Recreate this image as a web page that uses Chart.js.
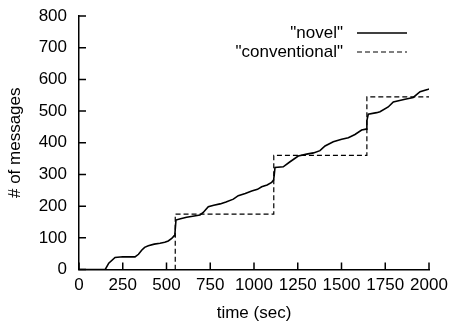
<!DOCTYPE html>
<html>
<head>
<meta charset="utf-8">
<script src="https://cdn.jsdelivr.net/npm/chart.js@4"></script>
<style>
html,body{margin:0;padding:0;background:#fff;}
#wrap{width:449px;height:324px;}
</style>
</head>
<body>
<div id="wrap"><canvas id="c" width="449" height="324"></canvas></div>
<script>
// ---- data ----
const novelTimes  = [0, 150, 170, 206, 250, 320, 340, 358, 375, 396, 430, 463, 490, 510, 530, 543, 548, 554, 580, 615, 650, 691, 710, 726, 739, 770, 806, 840, 882, 910, 950, 987, 1020, 1044, 1075, 1101, 1112, 1116, 1120, 1167, 1206, 1253, 1301, 1340, 1377, 1406, 1453, 1501, 1539, 1577, 1615, 1640, 1645, 1653, 1701, 1720, 1767, 1796, 1863, 1910, 1949, 1996, 2000];
const novelValues = [0,   0,  20,  38,  40,  40,  48,  61,  70,  75,  80,  83,  86,  90,  98, 106, 112, 156, 160, 165, 168, 172, 180, 190, 198, 203, 207, 213, 222, 233, 240, 248,  253,  261,  267,  275,  282,  300,  322,  324,  340,  358,  364,  368,  375,  390,  403,  411,  416,  426,  440,  443,  470,  490,  495,  498,  513,  529,  537,  543,  561,  569,  570];
const convTimes   = [0, 550, 1113, 1645, 2000];
const convValues  = [0, 175, 360, 545, 545];
const seriesLabels = ['"novel"', '"conventional"'];
const xTicks = [0, 250, 500, 750, 1000, 1250, 1500, 1750, 2000];
const yTicks = [0, 100, 200, 300, 400, 500, 600, 700, 800];
const xTitle = 'time (sec)';
const yTitle = '# of messages';

const INK = '#000';
const FONT = 'Liberation Sans, Arial, Helvetica, sans-serif';

const novelData = novelTimes.map((t, i) => ({x: t, y: novelValues[i]}));
const convData = convTimes.map((t, i) => ({x: t, y: convValues[i]}));

// inward tick marks drawn from the library's scales
const inwardTicks = {
  id: 'inwardTicks',
  afterDatasetsDraw(chart) {
    const {ctx, chartArea, scales} = chart;
    ctx.save();
    ctx.strokeStyle = INK;
    ctx.lineWidth = 1.5;
    ctx.beginPath();
    xTicks.forEach(v => {
      const px = scales.x.getPixelForValue(v);
      ctx.moveTo(px, chartArea.bottom);
      ctx.lineTo(px, chartArea.bottom - 7);
    });
    yTicks.forEach(v => {
      const py = scales.y.getPixelForValue(v);
      ctx.moveTo(chartArea.left, py);
      ctx.lineTo(chartArea.left + 7, py);
    });
    ctx.stroke();
    ctx.restore();
  }
};

// gnuplot-style legend: text right-aligned, sample line to its right
const gnuLegend = {
  id: 'gnuLegend',
  afterDraw(chart) {
    const {ctx} = chart;
    ctx.save();
    ctx.font = '17px ' + FONT;
    ctx.fillStyle = INK;
    ctx.textAlign = 'right';
    ctx.textBaseline = 'middle';
    const rows = [33, 52];
    chart.data.datasets.forEach((ds, i) => {
      const y = rows[i];
      ctx.fillText(ds.label, 343, y);
      ctx.beginPath();
      ctx.strokeStyle = INK;
      ctx.lineWidth = ds.borderWidth;
      ctx.setLineDash(ds.borderDash || []);
      ctx.moveTo(357, y);
      ctx.lineTo(407, y);
      ctx.stroke();
    });
    ctx.restore();
  }
};

new Chart(document.getElementById('c'), {
  type: 'line',
  data: {
    datasets: [
      {
        label: seriesLabels[0],
        data: novelData,
        borderColor: INK,
        borderWidth: 1.6,
        pointRadius: 0,
        tension: 0,
        fill: false
      },
      {
        label: seriesLabels[1],
        data: convData,
        borderColor: INK,
        borderWidth: 1.2,
        borderDash: [5, 3],
        pointRadius: 0,
        stepped: 'before',
        fill: false
      }
    ]
  },
  options: {
    responsive: false,
    animation: false,
    devicePixelRatio: 1,
    layout: {padding: {left: 0, right: 20, top: 16, bottom: 0}},
    plugins: {legend: {display: false}, tooltip: {enabled: false}},
    scales: {
      x: {
        type: 'linear',
        min: 0, max: 2000,
        afterBuildTicks(s) { s.ticks = xTicks.map(v => ({value: v})); },
        afterFit(s) { s.height = 54.5; s.paddingLeft = 0; s.paddingRight = 0; },
        grid: {display: true, drawOnChartArea: false, drawTicks: false},
        border: {display: true, color: INK, width: 1.5},
        ticks: {color: INK, font: {family: FONT, size: 17}, padding: 6, maxRotation: 0, autoSkip: false, callback: v => String(v)},
        title: {display: true, text: xTitle, color: INK, font: {family: FONT, size: 17}, padding: {top: 0, bottom: 0}}
      },
      y: {
        type: 'linear',
        min: 0, max: 800,
        afterBuildTicks(s) { s.ticks = yTicks.map(v => ({value: v})); },
        afterFit(s) { s.width = 79; s.paddingTop = 0; s.paddingBottom = 0; },
        grid: {display: true, drawOnChartArea: false, drawTicks: false},
        border: {display: true, color: INK, width: 1.5},
        ticks: {color: INK, font: {family: FONT, size: 17}, padding: 12, autoSkip: false, callback: v => String(v)},
        title: {display: true, text: yTitle, color: INK, font: {family: FONT, size: 17}, padding: {top: 5, bottom: 5}}
      }
    }
  },
  plugins: [inwardTicks, gnuLegend]
});
</script>
</body>
</html>
